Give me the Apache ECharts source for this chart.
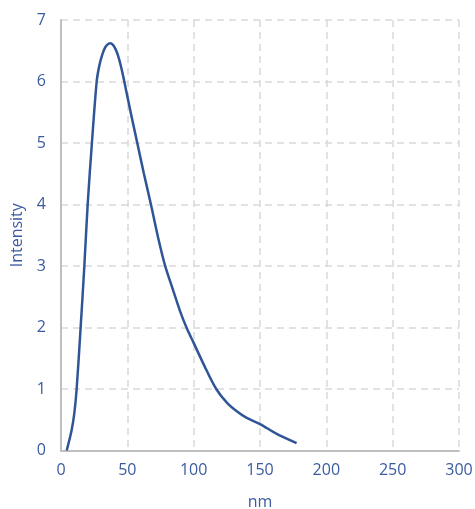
<!DOCTYPE html>
<html>
<head>
<meta charset="utf-8">
<script src="https://cdn.jsdelivr.net/npm/echarts@6/dist/echarts.min.js"></script>
<style>html,body{margin:0;padding:0;background:#fff;}#c{width:475px;height:509px;}</style>
</head>
<body>
<div id="c"></div>
<script>
const xValues = [4.3, 8, 10, 11.8, 14.8, 17.6, 20.1, 23.3, 26.9, 28.8, 31, 33.2, 35, 37, 39, 41, 43, 45.5, 47.7, 52.5, 57.5, 62.5, 67.8, 73, 78.4, 84.6, 90, 95, 100, 108, 117, 125, 133, 140, 150, 162.6, 177.6];
const intensity = [0, 0.33, 0.6, 1, 2, 3, 4, 5, 6, 6.25, 6.43, 6.55, 6.6, 6.62, 6.6, 6.53, 6.42, 6.22, 6, 5.5, 5, 4.5, 4, 3.48, 3.01, 2.6, 2.25, 1.98, 1.75, 1.38, 1.0, 0.78, 0.63, 0.53, 0.43, 0.27, 0.12];
const xTicks = [0, 50, 100, 150, 200, 250, 300];
const yTicks = [0, 1, 2, 3, 4, 5, 6, 7];

const labelColor = '#3A5BA0';
const font = 'Open Sans';
const chart = echarts.init(document.getElementById('c'));
chart.setOption({
  animation: false,
  grid: { left: 61, right: 16, top: 20, bottom: 58.5, outerBoundsMode: 'none', containLabel: false },
  xAxis: {
    type: 'value', min: xTicks[0], max: xTicks[xTicks.length - 1], interval: 50,
    name: 'nm', nameLocation: 'middle', nameGap: 44,
    nameTextStyle: { color: labelColor, fontSize: 16, fontFamily: font },
    axisLine: { show: true, lineStyle: { color: '#BFBFBF', width: 2 } },
    axisTick: { show: false },
    axisLabel: { color: labelColor, fontSize: 16, fontFamily: font, margin: 12 },
    splitLine: { show: true, lineStyle: { color: '#D9D9D9', type: [7, 5], width: 1.5 } }
  },
  yAxis: {
    type: 'value', min: yTicks[0], max: yTicks[yTicks.length - 1], interval: 1,
    name: 'Intensity', nameLocation: 'middle', nameGap: 36,
    nameTextStyle: { color: labelColor, fontSize: 16, fontFamily: font },
    axisLine: { show: true, lineStyle: { color: '#BFBFBF', width: 2 } },
    axisTick: { show: false },
    axisLabel: { color: labelColor, fontSize: 16, fontFamily: font, margin: 15 },
    splitLine: { show: true, lineStyle: { color: '#D9D9D9', type: [7, 5], width: 1.5 } }
  },
  series: [{
    type: 'line',
    data: xValues.map((x, i) => [x, intensity[i]]),
    smooth: 0.3,
    showSymbol: false,
    lineStyle: { color: '#2F5597', width: 2.5 }
  }]
});
</script>
</body>
</html>
